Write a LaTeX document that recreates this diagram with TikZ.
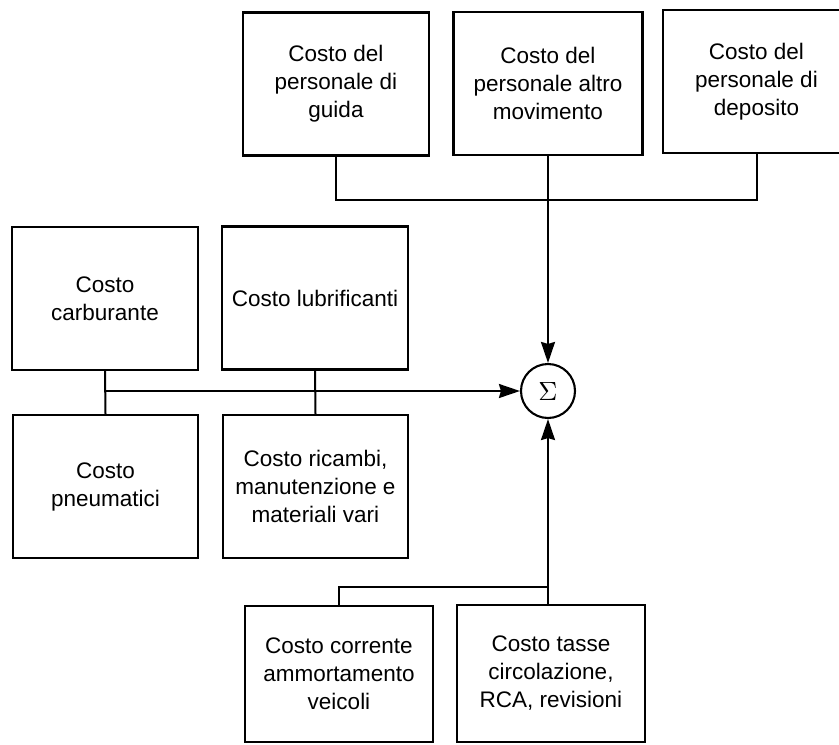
\documentclass[tikz,border=0pt]{standalone}
\usepackage{fontspec}
\setmainfont{Liberation Sans}
\usetikzlibrary{arrows.meta}
\tikzset{
  box/.style={draw, line width=2.4pt, minimum width=#1, minimum height=143pt, inner sep=0pt,
    align=center, font=\fontsize{22.5}{28}\selectfont},
  box/.default=186pt,
  conn/.style={line width=2pt},
  arr/.style={line width=2pt, -{Stealth[length=21pt,width=14pt,inset=2pt]}},
  sumnode/.style={draw, circle, line width=2.1pt, minimum size=54pt, inner sep=0pt}
}
\begin{document}
\begin{tikzpicture}[x=1pt,y=-1pt]
\useasboundingbox (0,0) rectangle (839,745);
\clip (0,0) rectangle (839,745);
% top row
\node[box] (g1) at (336,84) {Costo del\\personale di\\guida};
\node[box=189pt] (g2) at (548,83.5) {Costo del\\personale altro\\movimento};
\node[box=187pt] (g3) at (756.5,81.5) {Costo del\\personale di\\deposito};
% sum
\node[sumnode] (sig) at (548,391) {\resizebox{!}{18pt}{$\Sigma$}};
% left blocks
\node[box] (carb) at (105,298.5) {Costo\\carburante};
\node[box] (lubr) at (315,298) {Costo lubrificanti};
\node[box=185pt] (pneu) at (105.5,486.5) {Costo\\pneumatici};
\node[box=185pt] (ric) at (315.5,486.5) {Costo ricambi,\\manutenzione e\\materiali vari};
% bottom blocks
\node[box=188pt, minimum height=136pt] (corr) at (339,674) {Costo corrente\\ammortamento\\veicoli};
\node[box=188pt, minimum height=137pt] (tasse) at (551,673.5) {Costo tasse\\circolazione,\\RCA, revisioni};
% coordinates
\coordinate (jt) at (548,200);
\coordinate (jb) at (548,587);
% top connectors
\draw[conn] (g1.south) |- (jt) -| (g3.south);
\draw[arr] (g2.south) -- (sig.north);
% left connectors
\draw[conn] (carb.south) -- (pneu.north);
\draw[conn] (lubr.south) -- (ric.north);
\draw[arr] (carb.south |- sig.west) -- (sig.west);
% bottom connectors
\draw[conn] (corr.north) |- (jb);
\draw[arr] (tasse.north -| sig.south) -- (sig.south);
\end{tikzpicture}
\end{document}
